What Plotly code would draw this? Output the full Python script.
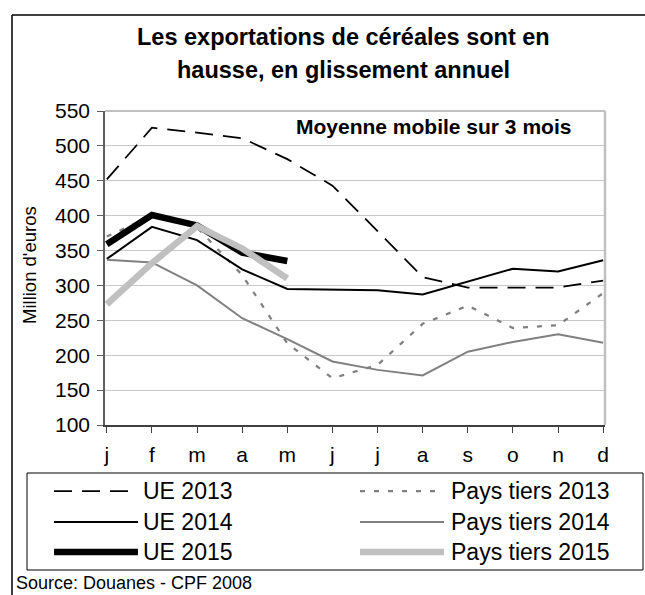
import plotly.graph_objects as go

months = ["j", "f", "m", "a", "m", "j", "j", "a", "s", "o", "n", "d"]
y_ticks = [100, 150, 200, 250, 300, 350, 400, 450, 500, 550]

ue_2013 = [452, 526, 519, 511, 481, 443, 378, 312, 297, 297, 297, 307]
pt_2013 = [370, 400, 383, 315, 217, 167, 186, 245, 271, 239, 243, 289]
ue_2014 = [338, 384, 365, 323, 295, 294, 293, 287, 305, 324, 320, 336]
pt_2014 = [337, 333, 300, 253, 223, 191, 179, 171, 205, 219, 230, 218]
ue_2015 = [359, 401, 386, 347, 335]
pt_2015 = [273, 332, 385, 353, 310]

series = [
    ("UE 2013", ue_2013, dict(color="black", width=1.75, dash="18px,10px")),
    ("Pays tiers 2013", pt_2013, dict(color="#808080", width=2.25, dash="5px,9px")),
    ("UE 2014", ue_2014, dict(color="black", width=2)),
    ("Pays tiers 2014", pt_2014, dict(color="#808080", width=2)),
    ("UE 2015", ue_2015, dict(color="black", width=6.5)),
    ("Pays tiers 2015", pt_2015, dict(color="#c0c0c0", width=6.5)),
]

FONT = "Liberation Sans, Arial, sans-serif"
fig = go.Figure()
for name, vals, line in series:
    fig.add_trace(go.Scatter(x=list(range(len(vals))), y=vals, mode="lines",
                             name=name, line=line, showlegend=False, hoverinfo="skip"))

# plot area geometry (px): x 105..605, y 111..425
L, R, T, B = 105, 605, 111, 425
W, H = 645, 595
def px(x):
    return (x - L) / (R - L)
def py(y):
    return (B - y) / (B - T)

shapes = []
annotations = []
# right and top plot border
shapes.append(dict(type="line", xref="paper", yref="paper", x0=1, x1=1, y0=0, y1=1,
                   line=dict(color="#c0c0c0", width=2.5)))
shapes.append(dict(type="line", xref="paper", yref="paper", x0=0, x1=1, y0=1, y1=1,
                   line=dict(color="#c0c0c0", width=2)))
# outer frame (left and top)
shapes.append(dict(type="line", xref="paper", yref="paper", x0=px(12), x1=px(700),
                   y0=py(15), y1=py(15), line=dict(color="black", width=1.5)))
shapes.append(dict(type="line", xref="paper", yref="paper", x0=px(12), x1=px(12),
                   y0=py(15), y1=py(700), line=dict(color="black", width=1.5)))
# legend box
shapes.append(dict(type="rect", xref="paper", yref="paper", x0=px(27), x1=px(643),
                   y0=py(570), y1=py(473), line=dict(color="black", width=1)))
rows = [491, 522, 552]
cols = [(54, 138, 141), (360, 444, 449)]
for i, (name, vals, line) in enumerate(series):
    r = rows[i // 2]
    c = cols[i % 2]
    shapes.append(dict(type="line", xref="paper", yref="paper", x0=px(c[0]), x1=px(c[1]),
                       y0=py(r), y1=py(r), line=dict(line)))
    annotations.append(dict(text=name, xref="paper", yref="paper", x=px(c[2]), y=py(r),
                            xanchor="left", yanchor="middle", showarrow=False,
                            font=dict(family=FONT, size=23, color="black")))

annotations += [
    dict(text="<b>Les exportations de céréales sont en</b>", xref="paper", yref="paper",
         x=px(343), y=py(37), xanchor="center", yanchor="middle", showarrow=False,
         font=dict(family=FONT, size=23.5, color="black")),
    dict(text="<b>hausse, en glissement annuel</b>", xref="paper", yref="paper",
         x=px(343), y=py(70), xanchor="center", yanchor="middle", showarrow=False,
         font=dict(family=FONT, size=23.5, color="black")),
    dict(text="<b>Moyenne mobile sur 3 mois</b>", xref="paper", yref="paper",
         x=px(433), y=py(126), xanchor="center", yanchor="middle", showarrow=False,
         font=dict(family=FONT, size=21, color="black")),
    dict(text="Million d'euros", xref="paper", yref="paper", textangle=-90,
         x=px(29), y=py(265), xanchor="center", yanchor="middle", showarrow=False,
         font=dict(family=FONT, size=18.5, color="black")),
    dict(text="Source: Douanes - CPF 2008", xref="paper", yref="paper",
         x=px(14), y=py(583), xanchor="left", yanchor="middle", showarrow=False,
         font=dict(family=FONT, size=18, color="black")),
]

fig.update_layout(
    width=W, height=H,
    margin=dict(l=L, r=W - R, t=T, b=H - B, pad=0),
    paper_bgcolor="white", plot_bgcolor="white",
    font=dict(family=FONT, size=21, color="black"),
    shapes=shapes, annotations=annotations,
    showlegend=False,
    xaxis=dict(range=[-0.04, 11.04], tickmode="array", tickvals=list(range(12)),
               ticktext=months, showgrid=False, zeroline=False,
               showline=True, linecolor="#404040", linewidth=1.5,
               ticks="outside", ticklen=6, tickcolor="#404040",
               ticklabelstandoff=4,
               tickfont=dict(family=FONT, size=21)),
    yaxis=dict(range=[100, 550], tickmode="array", tickvals=y_ticks,
               showgrid=True, gridcolor="#c8c8c8", gridwidth=1, zeroline=False,
               showline=True, linecolor="#606060", linewidth=1.5,
               ticks="outside", ticklen=6, tickcolor="#606060",
               ticklabelstandoff=3,
               tickfont=dict(family=FONT, size=21)),
)

fig.write_html("out.html", config={"displayModeBar": False},
               post_script="document.body.style.margin='0px';")
